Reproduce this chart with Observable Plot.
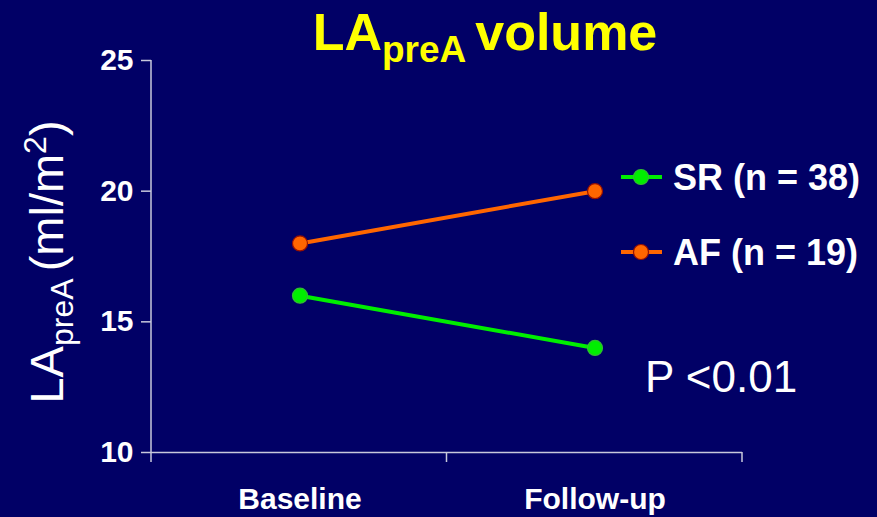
<!DOCTYPE html>
<html><head><meta charset="utf-8">
<script src="https://cdn.jsdelivr.net/npm/d3@7"></script>
<script src="https://cdn.jsdelivr.net/npm/@observablehq/plot@0.6"></script>
<style>
html,body{margin:0;padding:0;background:#010066;overflow:hidden;}
#chart svg{display:block;}
</style></head><body><div id="chart"></div>
<script>
// ---- data ----
const timepoints = ["Baseline", "Follow-up"];
const groups = ["SR (n = 38)", "AF (n = 19)"];
const srValues = [16, 14];
const afValues = [18, 20];
const yTicks = [10, 15, 20, 25];
const titleMain = "LA";
const titleSub = "preA";
const titleRest = "volume";
const yLabelMain = "LA";
const yLabelSub = "preA";
const yLabelUnit = "(ml/m";
const pValueText = "P <0.01";

const lineColors = ["#00ee00", "#ff6600"];
const dotStrokes = ["#33bb33", "#991100"];
const axisColor = "#c8c8dc";
const bg = "#010066";
const font = "Arial, 'Liberation Sans', sans-serif";

const data = [
  ...timepoints.map((t, i) => ({time: t, group: groups[0], value: srValues[i]})),
  ...timepoints.map((t, i) => ({time: t, group: groups[1], value: afValues[i]}))
];

const W = 877, H = 517;
const mL = 151, mR = 135, mT = 60, mB = 65;

const chart = Plot.plot({
  width: W, height: H,
  marginLeft: mL, marginRight: mR, marginTop: mT, marginBottom: mB,
  style: {background: bg, color: "#fff", fontFamily: font, overflow: "visible"},
  x: {type: "band", domain: timepoints, padding: 0, axis: null},
  y: {domain: [10, 25], axis: null},
  color: {domain: groups, range: lineColors},
  marks: [
    Plot.ruleY([10], {stroke: axisColor, strokeWidth: 1.5}),
    // y-axis line and band-boundary ticks
    (index, scales, values, dims) => {
      const g = d3.create("svg:g").attr("stroke", axisColor).attr("stroke-width", 1.5);
      const x0 = dims.marginLeft, x1 = dims.width - dims.marginRight;
      const yb = dims.height - dims.marginBottom, yt = dims.marginTop;
      g.append("line").attr("x1", x0).attr("x2", x0).attr("y1", yt).attr("y2", yb + 10);
      const n = timepoints.length;
      for (let i = 1; i <= n; i++) {
        const x = x0 + (x1 - x0) * i / n;
        g.append("line").attr("x1", x).attr("x2", x).attr("y1", yb).attr("y2", yb + 10);
      }
      return g.node();
    },
    Plot.axisY({ticks: yTicks, tickSize: 10, tickPadding: 8, fontSize: 30, fontWeight: "bold",
      stroke: axisColor, strokeWidth: 1.5, fill: "#fff", label: null, tickFormat: d => d}),
    Plot.axisX({tickSize: 0, tickPadding: 35, fontSize: 30, fontWeight: "bold", fill: "#fff", label: null}),
    Plot.line(data, {x: "time", y: "value", z: "group", stroke: "group", strokeWidth: 4}),
    ...groups.map((g, i) => Plot.dot(data, {filter: d => d.group === g, x: "time", y: "value",
      fill: "group", stroke: dotStrokes[i], strokeWidth: 1.2, r: 7.5}))
  ]
});

document.getElementById("chart").appendChild(chart);
const svg = d3.select(chart);

// title
const title = svg.append("text").attr("x", 485).attr("y", 50).attr("text-anchor", "middle")
  .attr("fill", "#ffff00").attr("font-family", font).attr("font-weight", "bold").attr("font-size", 52);
title.append("tspan").text(titleMain);
title.append("tspan").attr("font-size", 37).attr("dy", 12).text(titleSub + " ");
title.append("tspan").attr("dy", -12).text(titleRest);

// y label
const yl = svg.append("text").attr("transform", "translate(63,262) rotate(-90)")
  .attr("text-anchor", "middle").attr("fill", "#fff").attr("font-family", font).attr("font-size", 47);
yl.append("tspan").text(yLabelMain);
yl.append("tspan").attr("font-size", 32).attr("dy", 10).text(yLabelSub + " ");
yl.append("tspan").attr("dy", -10).text(yLabelUnit);
yl.append("tspan").attr("font-size", 32).attr("dy", -17).text("2");
yl.append("tspan").attr("dy", 17).text(")");

// legend
const legendY = [177, 252];
groups.forEach((g, i) => {
  const lg = svg.append("g");
  lg.append("line").attr("x1", 621).attr("x2", 662).attr("y1", legendY[i]).attr("y2", legendY[i])
    .attr("stroke", lineColors[i]).attr("stroke-width", 4);
  lg.append("circle").attr("cx", 641).attr("cy", legendY[i]).attr("r", 7.5)
    .attr("fill", lineColors[i]).attr("stroke", dotStrokes[i]).attr("stroke-width", 1.2);
  lg.append("text").attr("x", 673).attr("y", legendY[i] + 13).attr("text-anchor", "start")
    .attr("fill", "#fff").attr("font-family", font).attr("font-weight", "bold")
    .attr("font-size", 36).text(g);
});

// p-value
svg.append("text").attr("x", 645).attr("y", 392).attr("text-anchor", "start").attr("fill", "#fff")
  .attr("font-family", font).attr("font-size", 44).text(pValueText);
</script></body></html>
